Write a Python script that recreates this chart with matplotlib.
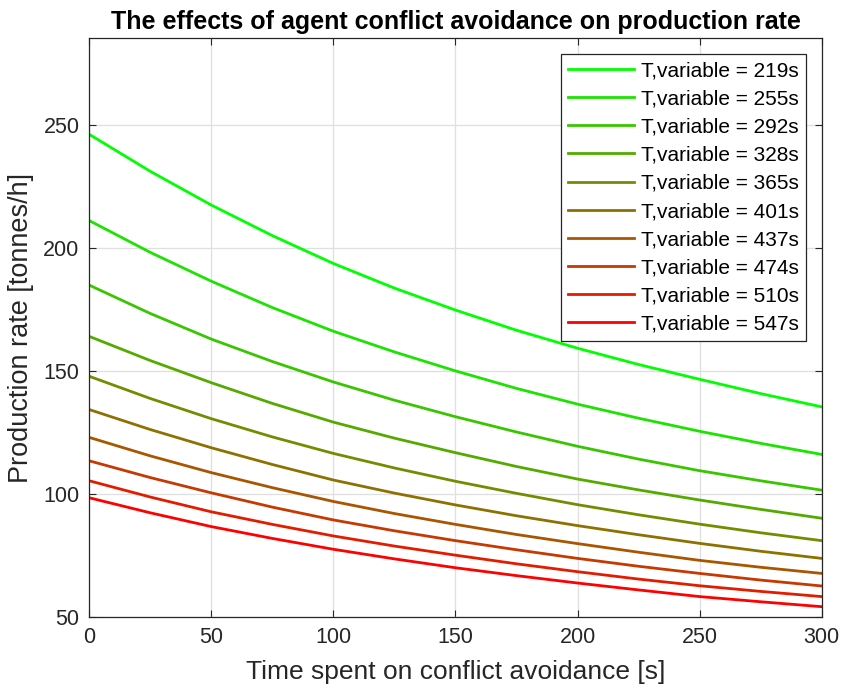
import matplotlib
matplotlib.use("Agg")
import matplotlib.pyplot as plt

plt.rcParams['font.family'] = ['Liberation Sans', 'DejaVu Sans']

# time spent on conflict avoidance [s]
t_values = [0, 25, 50, 75, 100, 125, 150, 175, 200, 225, 250, 275, 300]
T_variable = [219, 255, 292, 328, 365, 401, 437, 474, 510, 547]
# production rate [tonnes/h]
prod_219 = [246.0, 231.0, 217.3, 204.9, 193.6, 183.6, 174.7, 166.5, 159.2, 152.6, 146.6, 140.8, 135.4]
prod_255 = [211.0, 198.1, 186.4, 175.7, 166.1, 157.7, 150.0, 142.9, 136.5, 130.8, 125.5, 120.6, 116.1]
prod_292 = [184.8, 173.3, 162.9, 153.8, 145.5, 138.1, 131.4, 125.2, 119.4, 114.2, 109.5, 105.4, 101.6]
prod_328 = [164.0, 154.2, 145.2, 136.8, 129.2, 122.7, 116.8, 111.2, 106.1, 101.7, 97.6, 93.8, 90.2]
prod_365 = [147.8, 138.8, 130.6, 123.2, 116.5, 110.6, 105.2, 100.3, 95.7, 91.6, 87.8, 84.3, 81.1]
prod_401 = [134.3, 126.2, 118.8, 112.0, 105.7, 100.4, 95.6, 91.2, 87.2, 83.5, 80.0, 76.8, 73.9]
prod_437 = [123.0, 115.5, 108.7, 102.6, 97.0, 92.1, 87.7, 83.6, 79.9, 76.4, 73.1, 70.3, 67.8]
prod_474 = [113.5, 106.7, 100.5, 94.7, 89.5, 85.1, 81.1, 77.4, 73.9, 70.7, 67.8, 65.1, 62.7]
prod_510 = [105.4, 98.8, 92.8, 87.7, 83.0, 78.9, 75.2, 71.7, 68.5, 65.5, 62.8, 60.5, 58.4]
prod_547 = [98.5, 92.4, 86.8, 82.0, 77.6, 73.7, 70.1, 66.9, 63.9, 61.1, 58.4, 56.3, 54.3]
production = [prod_219, prod_255, prod_292, prod_328, prod_365,
              prod_401, prod_437, prod_474, prod_510, prod_547]

x_ticks = [0, 50, 100, 150, 200, 250, 300]
y_ticks = [50, 100, 150, 200, 250]

fig = plt.figure(figsize=(8.41, 6.89), dpi=100)
ax = fig.add_axes([0.1062, 0.1041, 0.9770 - 0.1062, 0.9444 - 0.1041])

n = len(T_variable)
for i, (T, vals) in enumerate(zip(T_variable, production)):
    f = i / (n - 1)
    color = (f, 1 - f, 0)
    ax.plot(t_values, vals, color=color, lw=2.0, label=f"T,variable = {T}s")

ax.set_xlim(0, 300)
ax.set_ylim(50, 285)
ax.set_xticks(x_ticks)
ax.set_yticks(y_ticks)
ax.grid(True, color='#dfdfdf', lw=0.9)
ax.set_axisbelow(True)
ax.tick_params(direction='in', top=True, right=True, length=5, width=0.8,
               colors='#262626', labelsize=15.5, pad=7)
for s in ax.spines.values():
    s.set_color('#262626')
    s.set_linewidth(0.9)

ax.set_xlabel("Time spent on conflict avoidance [s]", fontsize=19, color='#262626', labelpad=9)
ax.set_ylabel("Production rate [tonnes/h]", fontsize=19.5, color='#262626', labelpad=7)
ax.set_title("The effects of agent conflict avoidance on production rate",
             fontsize=18, fontweight='bold', pad=7)

leg = ax.legend(loc='upper right', fontsize=15, frameon=True, fancybox=False,
                edgecolor='#262626', framealpha=1, handlelength=3.2,
                borderaxespad=0.75, labelspacing=0.44, handletextpad=0.3,
                borderpad=0.35)
leg.get_frame().set_linewidth(0.9)

fig.savefig("out.png", dpi=100)
